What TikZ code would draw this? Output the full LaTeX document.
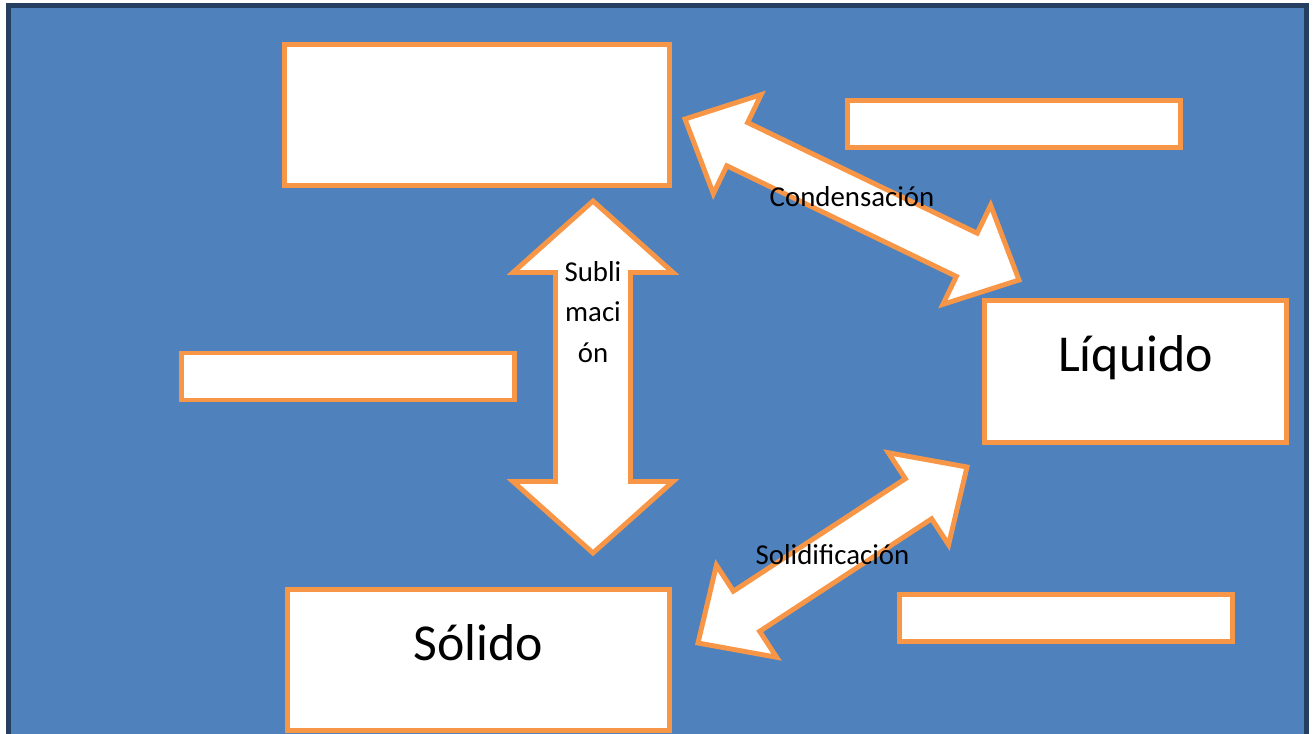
\documentclass[tikz,border=0pt]{standalone}
\usepackage{fontspec}
\setmainfont{Carlito}
\usetikzlibrary{calc}
\definecolor{slideblue}{HTML}{4F81BD}
\definecolor{slideframe}{HTML}{243F60}
\definecolor{boxorange}{HTML}{F79646}

% double block arrow between two tips: #3 head length, #4 head half width, #5 shaft half width
\newcommand{\twoway}[5]{%
  \draw[blockarrow] let \p1=($(#1)!#3!(#2)$), \p2=($(#2)!#3!(#1)$) in
    (#1) -- ($(\p1)!#4!90:(#2)$) -- ($(\p1)!#5!90:(#2)$)
    -- ($(\p2)!#5!-90:(#1)$) -- ($(\p2)!#4!-90:(#1)$) -- (#2)
    -- ($(\p2)!#4!90:(#1)$) -- ($(\p2)!#5!90:(#1)$)
    -- ($(\p1)!#5!-90:(#2)$) -- ($(\p1)!#4!-90:(#2)$) -- cycle;
}

\begin{document}
\begin{tikzpicture}[x=0.02cm,y=-0.02cm,
    state/.style={draw=boxorange,line width=2.8pt,fill=white,inner sep=0pt,
        font=\fontsize{29.5}{35}\selectfont,text height=0.6cm,text depth=0.6cm},
    note/.style={draw=boxorange,line width=2.8pt,fill=white,
        minimum width=6.66cm,minimum height=0.94cm},
    blockarrow/.style={draw=boxorange,line width=2.8pt,fill=white,line join=miter},
    change/.style={font=\fontsize{16.4}{23.2}\selectfont,inner sep=0pt,align=center}]
\useasboundingbox (0,0) rectangle (1316,734);
\draw[line width=2.8pt,draw=slideframe,fill=slideblue] (8.5,5.5) rectangle (1306.5,745);

% states
\node[state,minimum width=7.7cm,minimum height=2.82cm] (gas) at (477,115) {};
\node[state,minimum width=6.04cm,minimum height=2.84cm] (liquid) at (1135.5,371.5) {Líquido};
\node[state,minimum width=7.64cm,minimum height=2.82cm] (solid) at (478.5,660) {Sólido};

% empty answer boxes
\node[note] (blankA) at (1014,124) {};
\node[note] (blankB) at (348,376.5) {};
\node[note] (blankC) at (1066,618) {};

% arrow tips
\coordinate (subTop) at (593,201);
\coordinate (subBot) at (593,553);
\coordinate (conGas) at (685,119);
\coordinate (conLiq) at (1019,280);
\coordinate (solSol) at (698,643);
\coordinate (solLiq) at (967,467);

\twoway{subTop}{subBot}{1.43cm}{1.6cm}{0.75cm}
\twoway{conGas}{conLiq}{1.16cm}{1.1cm}{0.48cm}
\twoway{solSol}{solLiq}{1.16cm}{1.1cm}{0.48cm}

\node[change] (sublabel) at (593,312) {Subli\\maci\\ón};
\node[change] (conlabel) at ($(conGas)!0.5!(conLiq)+(0,-3)$) {Condensación};
\node[change] (sollabel) at ($(solSol)!0.5!(solLiq)$) {Solidificación};

\end{tikzpicture}
\end{document}
